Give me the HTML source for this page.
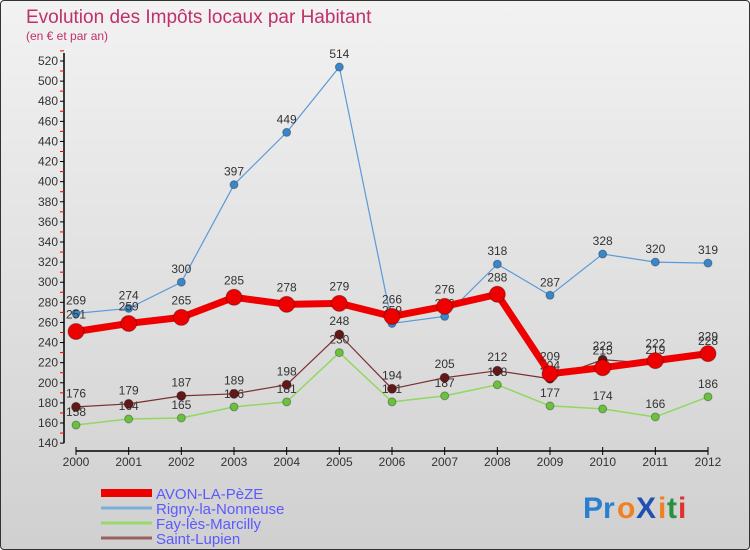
<!DOCTYPE html>
<html><head><meta charset="utf-8"><style>
body{margin:0;}
#c{position:relative;width:748px;height:548px;border:1px solid #333;border-radius:4px;background:linear-gradient(#f2f2f2,#d0d0d0);overflow:hidden;font-family:"Liberation Sans",sans-serif;}
text{font-family:"Liberation Sans",sans-serif;}
</style></head><body>
<div id="c">
<svg id="s" width="748" height="548" xmlns="http://www.w3.org/2000/svg">
<text x="25" y="22" font-size="19" fill="#c0306a">Evolution des Impôts locaux par Habitant</text>
<text x="25" y="39" font-size="12" fill="#c0306a">(en € et par an)</text>
<g id="axes"></g><g id="series"></g><g id="legend"></g>
<g font-size="30" font-weight="bold">
<text x="582" y="517" fill="#2a7fd0">Pr</text><text x="616" y="517" fill="#f08020">o</text><text x="635" y="517" fill="#2050b0">X</text><text x="657" y="517" fill="#f08020">i</text><text x="666" y="517" fill="#2a9040">t</text><text x="677" y="517" fill="#e03030">i</text>
</g>
</svg></div>
<script>
const years=[2000,2001,2002,2003,2004,2005,2006,2007,2008,2009,2010,2011,2012];
const avon=[251,259,265,285,278,279,266,276,288,209,215,222,229];
const rigny=[269,274,300,397,449,514,259,266,318,287,328,320,319];
const fay=[158,164,165,176,181,230,181,187,198,177,174,166,186];
const lupien=[176,179,187,189,198,248,194,205,212,204,223,219,228];
const yTicks=[140,160,180,200,220,240,260,280,300,320,340,360,380,400,420,440,460,480,500,520];
const names=["AVON-LA-PèZE","Rigny-la-Nonneuse","Fay-lès-Marcilly","Saint-Lupien"];
const NS="http://www.w3.org/2000/svg";
const X=i=>75+i*(707-75)/(years.length-1);
const Y=v=>422-(v-160)*1.0056;
function mk(t,a,p){const e=document.createElementNS(NS,t);for(const k in a)e.setAttribute(k,a[k]);p.appendChild(e);return e;}
const ax=document.getElementById('axes');
const yl=mk('line',{x1:63,y1:52,x2:63,y2:Y(140),stroke:'#000','stroke-width':1.5},ax);


yTicks.forEach(v=>{
 mk('line',{x1:59,y1:Y(v),x2:63,y2:Y(v),stroke:'#000'},ax);
 mk('line',{x1:59,y1:Y(v+10),x2:63,y2:Y(v+10),stroke:'#e00'},ax);
 const t=mk('text',{x:57,y:Y(v)+4,'font-size':12,'text-anchor':'end',fill:'#333'},ax);t.textContent=v;
 
 
});
const xl=mk('line',{x1:75,y1:450,x2:707,y2:450,stroke:'#000','stroke-width':1.5},ax);


years.forEach((y,i)=>{
 mk('line',{x1:X(i),y1:446,x2:X(i),y2:454,stroke:'#000'},ax);
 const t=mk('text',{x:X(i),y:465,'font-size':12,'text-anchor':'middle',fill:'#333'},ax);t.textContent=y;
 
 
});
const sg=document.getElementById('series');
const defs=[[fay,'#90d860','#6cc040',1.5,4,'fay-line'],[lupien,'#7a3030','#601818',1.2,4.5,'saint-lupien-line'],[rigny,'#5a9ad8','#3a86c8',1.2,4,'rigny-line'],[avon,'#ee0000','#ee0000',7,8,'avon-line']];
defs.forEach(([d,lc,pc,w,r,n])=>{
 const g=mk('g',{},sg);
 
 
 mk('polyline',{points:d.map((v,i)=>X(i)+','+Y(v)).join(' '),fill:'none',stroke:lc,'stroke-width':w,'stroke-linejoin':'round'},g);
 d.forEach((v,i)=>{
  const c=mk('circle',{cx:X(i),cy:Y(v),r:r,fill:pc,stroke:'rgba(0,0,0,0.3)','stroke-width':1},g);
  
  
  const t=mk('text',{x:X(i),y:Y(v)-(r+5),'font-size':12,'text-anchor':'middle',fill:'#333'},g);t.textContent=v;
  
  
 });
});
const lg=document.getElementById('legend');
const lcol=['#ee0000','#7aaed8','#98d870','#9a6060'];const lw=[8,3,3,3];
names.forEach((n,i)=>{
 const g=mk('g',{},lg);
 
 
 const y=492+i*15;
 mk('line',{x1:100,y1:y,x2:151,y2:y,stroke:lcol[i],'stroke-width':lw[i]},g);
 const t=mk('text',{x:155,y:y+6,'font-size':15,fill:'#5a5aff',textLength:0},g);t.removeAttribute('textLength');t.textContent=n;
});
</script>
</body></html>
